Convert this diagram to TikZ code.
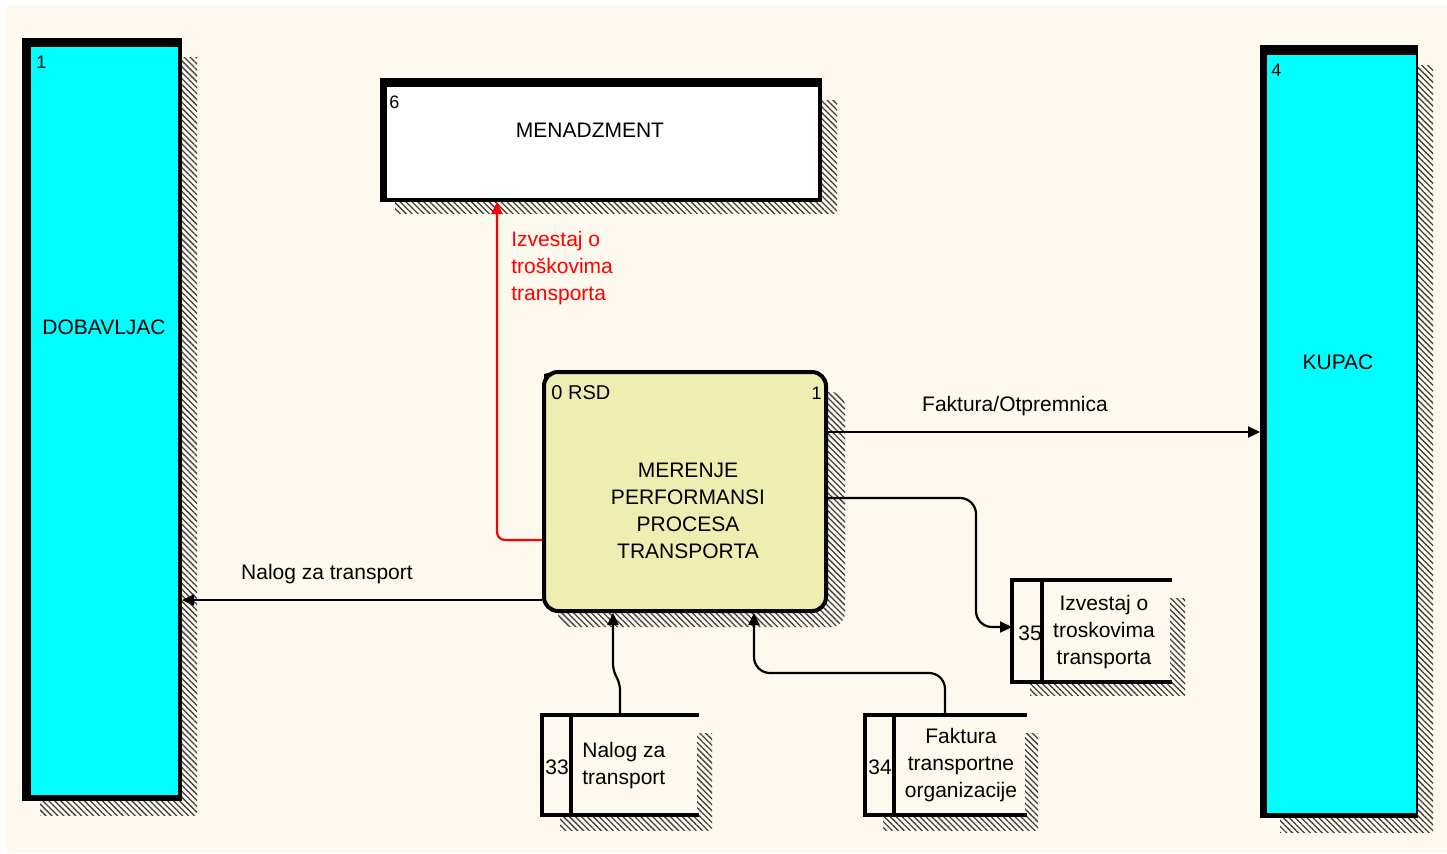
\documentclass[tikz,border=0pt]{standalone}
\usepackage{fontspec}
\setmainfont{Liberation Sans}
\usetikzlibrary{arrows.meta,patterns.meta,calc}

\definecolor{paper}{RGB}{254,249,238}
\definecolor{entcyan}{RGB}{0,255,255}
\definecolor{procfill}{RGB}{238,237,178}
\definecolor{flowred}{RGB}{255,0,0}

\tikzset{
  shadowhatch/.style={pattern={Lines[angle=-45,distance=2.1pt,line width=0.65pt]}, pattern color=black!75},
  outerbox/.style={fill=black, inner sep=0pt, outer sep=0pt, anchor=north west},
  storebox/.style={fill=paper, inner sep=0pt, outer sep=0pt, anchor=north west},
  storeline/.style={line width=1.8pt, line cap=rect},
  procbox/.style={draw=black, line width=2pt, fill=procfill, rounded corners=7pt,
                  inner sep=0pt, minimum width=141pt, minimum height=119.5pt},
  idtext/.style={font=\fontsize{9}{11}\selectfont, inner sep=0pt},
  flow/.style={line width=1.1pt, rounded corners=4pt, -{Triangle[length=6pt,width=5.5pt]}},
  lbl/.style={inner sep=0pt, align=left},
}

\begin{document}
\begin{tikzpicture}[x=0.5pt, y=-0.5pt, font=\fontsize{10.5}{13.5}\selectfont]
\useasboundingbox (0,0) rectangle (1447,853);
\fill[white] (0,0) rectangle (1447,853);
\fill[paper] (7,5) rectangle (1447,853);

% ---------- shadows ----------
\fill[shadowhatch] (40,57) rectangle (197,815);
\fill[shadowhatch] (1280,65) rectangle (1433,832);
\fill[shadowhatch] (395,100) rectangle (837,213);
\fill[shadowhatch, rounded corners=7pt] (558,392) rectangle (845,627);
\fill[shadowhatch] (560,733) rectangle (712,830);
\fill[shadowhatch] (883,733) rectangle (1038,830);
\fill[shadowhatch] (1030,598) rectangle (1185,695);

% ---------- external entity DOBAVLJAC ----------
\node[outerbox, minimum width=80pt, minimum height=381.5pt] (dob) at (22,38) {};
\fill[entcyan] (31,47) rectangle (178,795);
\node[idtext, anchor=west] (dobid) at (36,62) {1};
\node (dobname) at (104,327) {DOBAVLJAC};

% ---------- external entity KUPAC ----------
\node[outerbox, minimum width=79pt, minimum height=386.5pt] (kup) at (1260,45) {};
\fill[entcyan] (1267,55) rectangle (1416,813);
\node[idtext, anchor=west] (kupid) at (1271,70) {4};
\node (kupname) at (1338,362) {KUPAC};

% ---------- external entity MENADZMENT ----------
\node[outerbox, minimum width=221pt, minimum height=62pt] (men) at (380,78) {};
\fill[white] (387,87) rectangle (818,198);
\node[idtext, anchor=west] (menid) at (389,102) {6};
\node (menname) at (590,130) {MENADZMENT};

% ---------- process ----------
\node[procbox] (proc) at (685,491.5) {};
\fill (544,374) -- (552,372) -- (544,380) -- cycle;
\node[idtext, anchor=west, font=\fontsize{10}{12}\selectfont] (procid) at (551,393) {0 RSD};
\node[idtext, anchor=east] (procnum) at (822,393) {1};
\node[align=center, inner sep=0pt] (proctext) at (688,511)
  {MERENJE\\PERFORMANSI\\PROCESA\\TRANSPORTA};

% ---------- data stores ----------
\node[storebox, minimum width=77.5pt, minimum height=50pt] (ds33) at (542,715) {};
\draw[storeline] (697,715) -| (542,815) -- (697,815);
\draw[storeline] (571,715) -- (571,815);
\node[inner sep=0pt] (ds33id) at (557,767) {33};
\node[lbl, anchor=west] (ds33txt) at (582,766) {Nalog za\\transport};

\node[storebox, minimum width=80pt, minimum height=50pt] (ds34) at (865,715) {};
\draw[storeline] (1025,715) -| (865,815) -- (1025,815);
\draw[storeline] (894,715) -- (894,815);
\node[inner sep=0pt] (ds34id) at (880,767) {34};
\node[align=center, inner sep=0pt] (ds34txt) at (961,765) {Faktura\\transportne\\organizacije};

\node[storebox, minimum width=79pt, minimum height=51pt] (ds35) at (1012,580) {};
\draw[storeline] (1170,580) -| (1012,682) -- (1170,682);
\draw[storeline] (1042,580) -- (1042,682);
\node[inner sep=0pt] (ds35id) at (1030,633) {35};
\node[align=center, inner sep=0pt] (ds35txt) at (1104,632) {Izvestaj o\\troskovima\\transporta};

% ---------- data flows ----------
\draw[flow] (proc.east |- 0,432) -- (kup.west |- 0,432);
\node[inner sep=0pt] (fl1) at (1015,406) {Faktura/Otpremnica};

\draw[flow] (proc.west |- 0,600) -- (dob.east |- 0,600);
\node[inner sep=0pt] (fl2) at (327,574) {Nalog za transport};

\draw[flow, flowred] (proc.west |- 0,540) -| (men.south -| 497,0);
\node[lbl, anchor=west, text=flowred] (fl3) at (511,268) {Izvestaj o\\troškovima\\transporta};

\draw[flow, rounded corners=8pt] (proc.east |- 0,498) -- (976,498) -- (976,627) -- (ds35.west |- 0,627);

\draw[flow, rounded corners=3pt] (ds33.north -| 620,0) -- (620,684) -- (613,670) -- (proc.south -| 613,0);

\draw[flow, rounded corners=8pt] (ds34.north -| 945,0) -- (945,673) -- (754,673) -- (proc.south -| 754,0);

\end{tikzpicture}
\end{document}
